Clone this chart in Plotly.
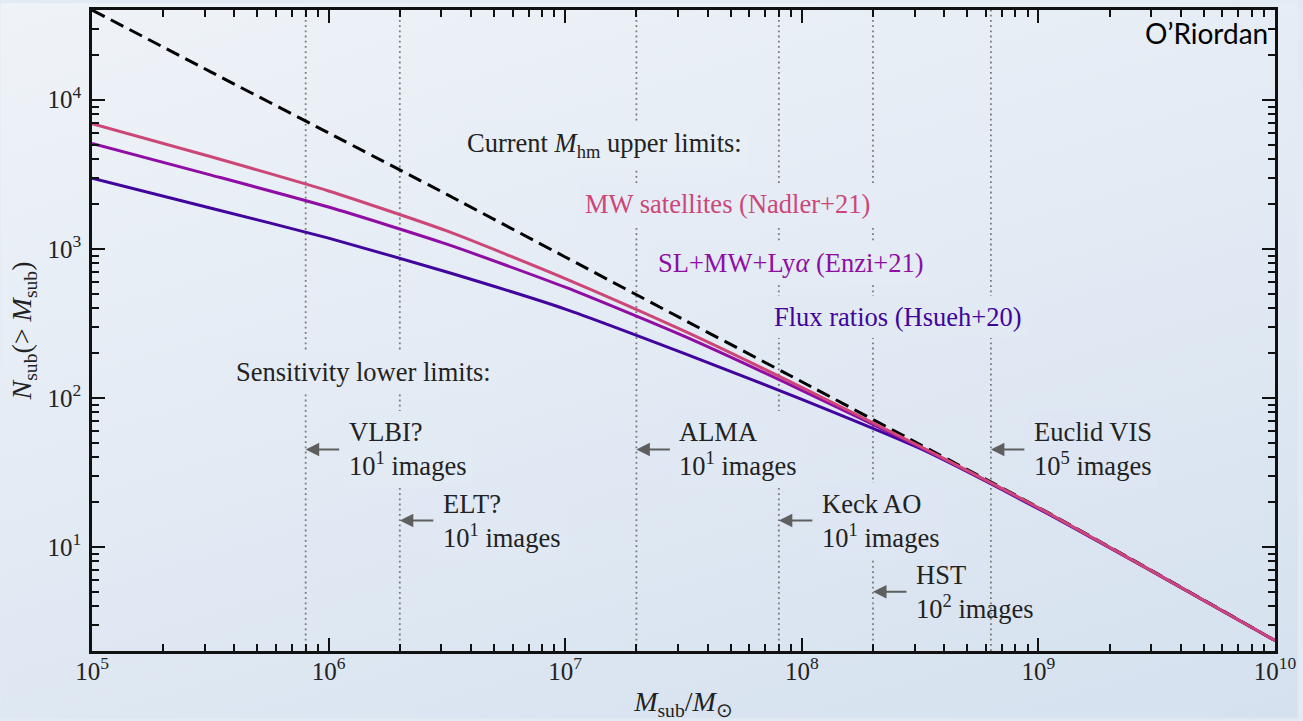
import base64
import numpy as np
import plotly.graph_objects as go

# ---------------- data ----------------
mass = [1e5, 3.16e5, 1e6, 3.16e6, 1e7, 3.16e7, 1e8, 3.16e8, 1e9, 3.16e9, 1e10]
n_cdm = [40000, 15450, 5984, 2317, 881, 335, 128.2, 48.6, 18.4, 6.64, 2.35]
n_mw = [6900, 4159, 2443, 1318, 631, 282, 117.5, 47.2, 18.28, 6.6, 2.35]
n_enzi = [5080, 3133, 1905, 1074, 552, 260, 112.2, 46.5, 18.2, 6.6, 2.35]
n_flux = [2980, 1879, 1178, 698, 394, 199.5, 97.7, 45.7, 18.0, 6.58, 2.35]

sens_names = ["VLBI?", "ELT?", "ALMA", "Keck AO", "HST", "Euclid VIS"]
sens_mass = [8e5, 2e6, 2e7, 8e7, 2e8, 6.3e8]
sens_img_exp = [1, 1, 1, 1, 2, 5]
sens_label_n = [45, 15, 45, 15, 5, 45]   # height of arrow / label

header_text = ["Current <i>M</i><sub>hm</sub> upper limits:",
               "MW satellites (Nadler+21)",
               "SL+MW+Ly<i>α</i> (Enzi+21)",
               "Flux ratios (Hsueh+20)",
               "Sensitivity lower limits:"]
header_mass = [3.85e6, 1.21e7, 2.46e7, 7.66e7, 4.05e5]
header_n = [5000, 2000, 800, 350, 150]

x_tick_exp = [5, 6, 7, 8, 9, 10]
y_tick_exp = [1, 2, 3, 4]

C_MW = "#cc4778"
C_ENZI = "#8f0da4"
C_FLUX = "#41049d"
header_color = ["#222222", C_MW, C_ENZI, C_FLUX, "#222222"]

# ---------------- layout constants ----------------
W, H = 1303, 721
ML, MR, MT, MB = 92, 23, 7, 68
PW, PH = W - ML - MR, H - MT - MB
XR = [5, 10.0002]
YR = [np.log10(2), np.log10(4e4)]
SERIF = "Liberation Serif, Times New Roman, serif"
TXT = "#222222"
AX = "#111111"

C0 = np.array([239, 243, 248])
C1 = np.array([213, 225, 239])


def bg_at(px, py):
    t = 0.35 * px / W + 0.65 * py / H
    t = min(max(t, 0), 1)
    c = C0 + (C1 - C0) * t
    return "rgb(%d,%d,%d)" % tuple(np.round(c))


def to_px(m, n):
    px = ML + PW * (np.log10(m) - XR[0]) / (XR[1] - XR[0])
    py = MT + PH * (YR[1] - np.log10(n)) / (YR[1] - YR[0])
    return px, py


# gradient background image
a, b = 0.35 / W, 0.65 / H
s = a * a + b * b
gx, gy = a / s, b / s
svg = ('<svg xmlns="http://www.w3.org/2000/svg" width="%d" height="%d">'
       '<defs><linearGradient id="g" gradientUnits="userSpaceOnUse" x1="0" y1="0" x2="%.1f" y2="%.1f">'
       '<stop offset="0" stop-color="rgb(%d,%d,%d)"/><stop offset="1" stop-color="rgb(%d,%d,%d)"/>'
       '</linearGradient></defs><rect width="%d" height="%d" fill="url(#g)"/></svg>'
       % (W, H, gx, gy, *C0, *C1, W, H))
src = "data:image/svg+xml;base64," + base64.b64encode(svg.encode()).decode()

fig = go.Figure()

fig.add_trace(go.Scatter(x=mass, y=n_cdm, mode="lines",
                         line=dict(color="black", width=3, dash="14px,7px", shape="spline", smoothing=0.6),
                         hoverinfo="skip", showlegend=False))
for yv, col in [(n_flux, C_FLUX), (n_enzi, C_ENZI), (n_mw, C_MW)]:
    fig.add_trace(go.Scatter(x=mass, y=yv, mode="lines",
                             line=dict(color=col, width=3, shape="spline", smoothing=0.6),
                             hoverinfo="skip", showlegend=False))
# invisible trace to activate the mirrored tick axes
fig.add_trace(go.Scatter(x=[mass[0]], y=[n_cdm[-1]], xaxis="x2", yaxis="y2", mode="markers",
                         marker=dict(opacity=0), hoverinfo="skip", showlegend=False))

shapes = []
for m in sens_mass:
    shapes.append(dict(type="line", xref="x", yref="paper", x0=m, x1=m, y0=0, y1=1,
                       line=dict(color="#7a7a7a", width=1.8, dash="1.8px,3.4px"), layer="below"))

annotations = []
PAD = 6
FS = 26.5
for txt, m, n, col in zip(header_text, header_mass, header_n, header_color):
    px, py = to_px(m, n)
    annotations.append(dict(x=np.log10(m), y=np.log10(n), xref="x", yref="y", text=txt,
                            showarrow=False, xanchor="left", yanchor="middle", xshift=-PAD,
                            font=dict(family=SERIF, size=FS, color=col),
                            bgcolor=bg_at(px + 130, py), borderpad=PAD, borderwidth=0))

for name, m, e, n in zip(sens_names, sens_mass, sens_img_exp, sens_label_n):
    px, py = to_px(m, n)
    annotations.append(dict(x=np.log10(m), y=np.log10(n), xref="x", yref="y", text="",
                            showarrow=True, ax=35, ay=0, arrowhead=2, arrowsize=1.35,
                            arrowwidth=2, arrowcolor="#5f5f5f", standoff=0))
    ann = dict(x=np.log10(m), y=np.log10(n), xref="x", yref="y",
               text="%s<br>10<sup>%d</sup> images" % (name, e),
               showarrow=False, xanchor="left", yanchor="middle", align="left",
               xshift=43 - PAD, font=dict(family=SERIF, size=FS, color=TXT),
               borderpad=PAD, borderwidth=0)
    if name != "HST":
        ann["bgcolor"] = bg_at(px + 100, py)
    annotations.append(ann)

annotations.append(dict(x=1.0 - 5 / PW, y=1.0 - 23 / PH, xref="paper", yref="paper",
                        text="O’Riordan", showarrow=False, xanchor="right", yanchor="middle",
                        font=dict(family="Lato", size=28, color="black")))

x_major = [10.0 ** e for e in x_tick_exp]
x_minor = [k * 10.0 ** e for e in x_tick_exp[:-1] for k in range(2, 10)]
y_major = [10.0 ** e for e in y_tick_exp]
y_minor = [k * 10.0 ** e for e in [0] + y_tick_exp for k in range(2, 10) if 2 <= k * 10.0 ** e <= 4e4]

tick_common = dict(ticks="inside", ticklen=13, tickwidth=2, tickcolor=AX,
                   showgrid=False, zeroline=False, tickmode="array")


def minor(vals):
    return dict(ticks="inside", ticklen=7, tickwidth=1.5, tickcolor=AX,
                tickmode="array", tickvals=vals, showgrid=False)


fig.update_layout(
    width=W, height=H,
    margin=dict(l=ML, r=MR, t=MT, b=MB, pad=0),
    paper_bgcolor="rgb(226,234,243)", plot_bgcolor="rgba(0,0,0,0)",
    xaxis=dict(type="log", range=XR, showline=True, linecolor=AX, linewidth=2.5, mirror=True,
               tickvals=x_major, ticktext=["10<sup>%d</sup>" % e for e in x_tick_exp],
               minor=minor(x_minor), ticklabelstandoff=-4,
               tickfont=dict(family=SERIF, size=25, color=TXT), **tick_common,
               title=dict(text="<i>M</i><sub>sub</sub>/<i>M</i><sub>⊙</sub>",
                          font=dict(family=SERIF, size=28, color=TXT), standoff=10)),
    yaxis=dict(type="log", range=YR, showline=True, linecolor=AX, linewidth=2.5, mirror=True,
               tickvals=y_major, ticktext=["10<sup>%d</sup>" % e for e in y_tick_exp],
               minor=minor(y_minor), ticklabelstandoff=3,
               tickfont=dict(family=SERIF, size=25, color=TXT), **tick_common,
               title=dict(text="<i>N</i><sub>sub</sub>(&gt; <i>M</i><sub>sub</sub>)",
                          font=dict(family=SERIF, size=28, color=TXT), standoff=8)),
    xaxis2=dict(type="log", range=XR, overlaying="x", side="top", showline=False,
                tickvals=x_major, minor=minor(x_minor), showticklabels=False, **tick_common),
    yaxis2=dict(type="log", range=YR, overlaying="y", side="right", showline=False,
                tickvals=y_major, minor=minor(y_minor), showticklabels=False, **tick_common),
    shapes=shapes, annotations=annotations,
    images=[dict(source=src, xref="paper", yref="paper", x=-ML / PW, y=1 + MT / PH,
                 sizex=W / PW, sizey=H / PH, xanchor="left", yanchor="top",
                 sizing="stretch", layer="below")],
)

fig.write_html("out.html")
